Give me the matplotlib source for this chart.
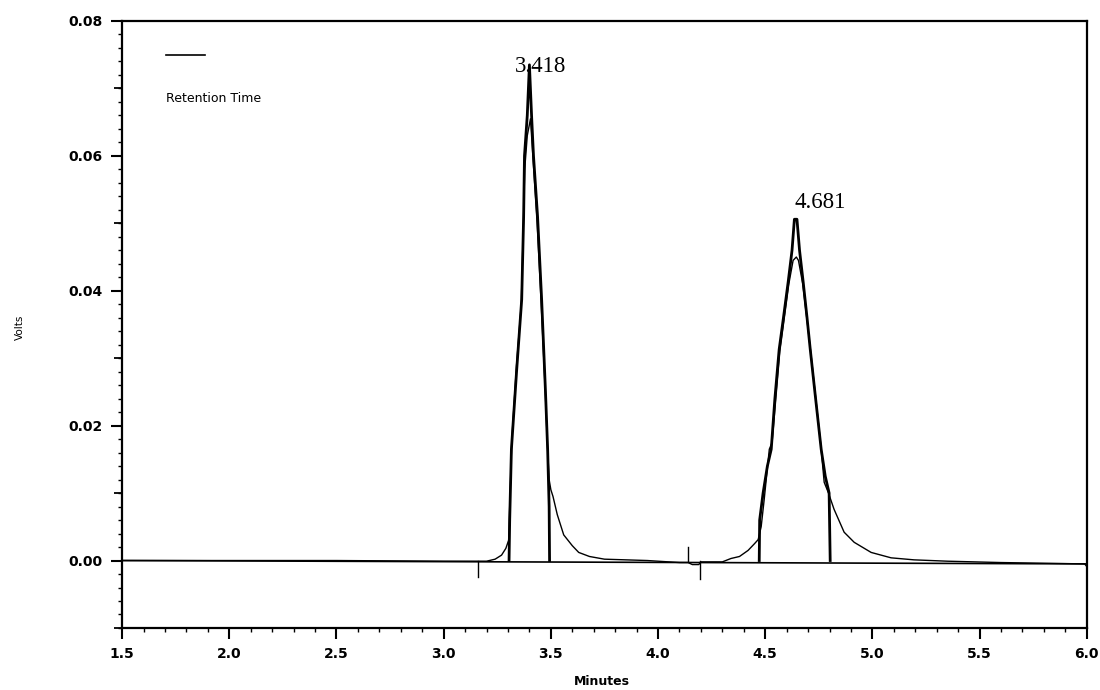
import matplotlib
matplotlib.use('Agg')
import matplotlib.pyplot as plt

# detector signal (thin trace), minutes / volts
sig_t = [1.50, 2.50, 3.00, 3.20, 3.24, 3.27, 3.29, 3.303, 3.31, 3.318, 3.34,
         3.362, 3.372, 3.378, 3.39, 3.405, 3.418, 3.436, 3.455, 3.474, 3.484,
         3.492, 3.50, 3.51, 3.53, 3.56, 3.60, 3.63, 3.68, 3.75, 3.85, 3.95,
         4.10, 4.14, 4.16, 4.19, 4.20, 4.30, 4.34, 4.38, 4.42, 4.45, 4.467,
         4.481, 4.495, 4.519, 4.532, 4.568, 4.61, 4.63, 4.645, 4.655, 4.675,
         4.712, 4.758, 4.775, 4.794, 4.821, 4.868, 4.915, 4.994, 5.087, 5.194,
         5.35, 5.60, 5.99, 6.00]
sig_v = [0.0, 0.0, -0.0001, -0.0001, 0.0002, 0.0008, 0.0018, 0.003, 0.010,
         0.018, 0.029, 0.038, 0.050, 0.058, 0.063, 0.0655, 0.059, 0.050,
         0.038, 0.025, 0.017, 0.012, 0.0105, 0.0095, 0.0068, 0.0038, 0.0022,
         0.0012, 0.0006, 0.0002, 0.0001, 0.0, -0.0003, -0.0003, -0.0006,
         -0.0006, -0.0002, -0.0002, 0.0003, 0.0006, 0.0015, 0.0025, 0.0031,
         0.005, 0.009, 0.0165, 0.0175, 0.031, 0.041, 0.0445, 0.045, 0.0445,
         0.041, 0.031, 0.0175, 0.0116, 0.0101, 0.0076, 0.0042, 0.0027, 0.0012,
         0.0004, 0.0001, -0.0001, -0.0003, -0.0005, -0.0009]

# integrated peak outlines (bold trace)
pk1_t = [3.305, 3.308, 3.316, 3.34, 3.364, 3.373, 3.377, 3.39, 3.40, 3.41,
         3.419, 3.438, 3.457, 3.475, 3.485, 3.492, 3.494]
pk1_v = [0.0, 0.006, 0.0165, 0.028, 0.0387, 0.051, 0.060, 0.066, 0.0735,
         0.066, 0.060, 0.051, 0.0387, 0.025, 0.0165, 0.008, 0.0]
pk2_t = [4.472, 4.474, 4.49, 4.51, 4.528, 4.545, 4.565, 4.585, 4.607, 4.625,
         4.636, 4.648, 4.66, 4.677, 4.695, 4.710, 4.735, 4.761, 4.78, 4.798,
         4.803]
pk2_v = [0.0, 0.006, 0.010, 0.014, 0.0165, 0.024, 0.0313, 0.036, 0.0413,
         0.046, 0.0506, 0.0506, 0.046, 0.0413, 0.036, 0.0313, 0.024, 0.0165,
         0.0125, 0.010, 0.0]

# baseline and integration event marks
base_t = [1.50, 6.00]
base_v = [0.0, -0.0005]
event_t = [3.16, 4.141, 4.197]
event_v = [-0.0025, 0.002, -0.0028]

# retention time labels
rt_labels = ['3.418', '4.681']
rt_t = [3.33, 4.635]
rt_v = [0.0733, 0.0531]

fig = plt.figure(figsize=(11, 6.9), dpi=100)
ax = fig.add_axes([0.111, 0.0899, 0.877, 0.8797])

ax.plot(base_t, base_v, color='black', lw=1.2)
ax.plot(sig_t, sig_v, color='black', lw=1.0)
ax.plot(pk1_t, pk1_v, color='black', lw=2.0)
ax.plot(pk2_t, pk2_v, color='black', lw=2.0)
for t, v in zip(event_t, event_v):
    ax.plot([t, t], [0, v], color='black', lw=1.0)

for lab, t, v in zip(rt_labels, rt_t, rt_v):
    ax.text(t, v, lab, ha='left', va='center', fontsize=16.5,
            family='Liberation Serif', color='black')

# legend-like key in the upper left
ax.plot([0.045, 0.086], [0.944, 0.944], transform=ax.transAxes,
        color='black', lw=1.2)
ax.text(0.045, 0.873, 'Retention Time', transform=ax.transAxes,
        fontsize=9, va='center', ha='left')

ax.set_xlim(1.5, 6.0)
ax.set_ylim(-0.01, 0.08)
ax.set_xticks([1.5, 2.0, 2.5, 3.0, 3.5, 4.0, 4.5, 5.0, 5.5, 6.0])
ax.set_xticks([x / 10 for x in range(15, 61)], minor=True)
ax.set_yticks([0.0, 0.02, 0.04, 0.06, 0.08])
ax.set_yticks([y / 1000 for y in range(-10, 81, 2)], minor=True)
ax.set_yticklabels(['0.00', '0.02', '0.04', '0.06', '0.08'])
ax.tick_params(which='major', direction='out', length=8, width=1.5,
               labelsize=10, pad=6)
ax.tick_params(which='minor', direction='out', length=3, width=1.0)
for lbl in ax.get_xticklabels() + ax.get_yticklabels():
    lbl.set_fontweight('bold')
for sp in ax.spines.values():
    sp.set_linewidth(1.6)

# medium ticks at the odd hundredths
sec = ax.secondary_yaxis('left')
sec.set_yticks([-0.01, 0.01, 0.03, 0.05, 0.07])
sec.tick_params(direction='out', length=6, width=1.3, labelleft=False)
sec.spines['left'].set_visible(False)

fig.text(0.018, 0.526, 'Volts', rotation=90, fontsize=7.5,
         ha='center', va='center')
fig.text(0.547, 0.012, 'Minutes', fontsize=9, fontweight='bold',
         ha='center', va='center')

fig.savefig('out.png', dpi=100)
